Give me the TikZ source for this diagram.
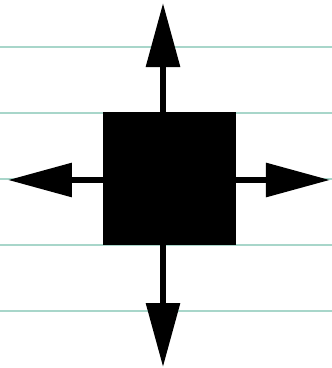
\documentclass[tikz,border=0pt]{standalone}
\usetikzlibrary{arrows.meta}
\definecolor{rule}{RGB}{168,214,202}
\begin{document}
\begin{tikzpicture}[x=1pt,y=-1pt,
  ruleline/.style={draw=rule,line width=2.6pt},
  block/.style={fill=black,draw=none,minimum width=133pt,minimum height=133pt,inner sep=0pt,outer sep=0pt},
  bigarrow/.style={line width=6pt,-{Triangle[length=64pt,width=33pt]}}]
\useasboundingbox (0,0) rectangle (332,368);
\foreach \yy in {47,113,179,245,311} \draw[ruleline] (0,\yy) -- (332,\yy);
\node[block] (sq) at (169.5,178.5) {};
\coordinate (tN) at (163,3);
\coordinate (tS) at (163,367);
\coordinate (tW) at (8,180);
\coordinate (tE) at (330,180);
\draw[bigarrow] (sq.north -| tN) -- (tN);
\draw[bigarrow] (sq.south -| tS) -- (tS);
\draw[bigarrow] (sq.west |- tW) -- (tW);
\draw[bigarrow] (sq.east |- tE) -- (tE);
\end{tikzpicture}
\end{document}
